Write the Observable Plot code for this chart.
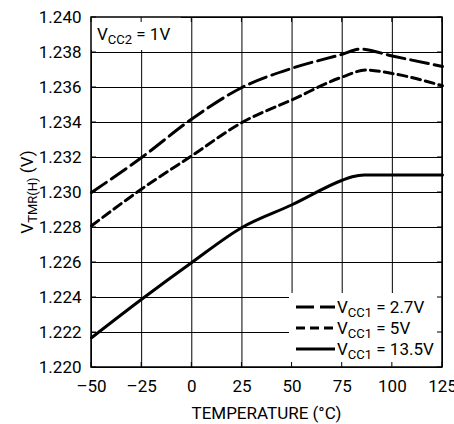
<!DOCTYPE html>
<html><head><meta charset="utf-8">
<script src="https://cdn.jsdelivr.net/npm/d3@7"></script>
<script src="https://cdn.jsdelivr.net/npm/@observablehq/plot@0.6"></script>
<style>body{margin:0;background:#fff;} svg{font-family:Roboto,sans-serif;}</style>
</head><body><div id="chart"></div>
<script>
// Tick values
const xTicks = [-50, -25, 0, 25, 50, 75, 100, 125];
const yTicks = [1.220, 1.222, 1.224, 1.226, 1.228, 1.230, 1.232, 1.234, 1.236, 1.238, 1.240];

// Series: VCC1 = 2.7V
const temp27 = [-50, -25, 0, 25, 50, 75, 84, 100, 125];
const v27    = [1.2300, 1.2320, 1.2342, 1.2360, 1.2371, 1.2379, 1.2382, 1.2378, 1.2372];
// Series: VCC1 = 5V
const temp5  = [-50, -25, 0, 25, 50, 75, 87, 100, 125];
const v5     = [1.2281, 1.2302, 1.2321, 1.2340, 1.2353, 1.2366, 1.2370, 1.2368, 1.2361];
// Series: VCC1 = 13.5V
const temp135 = [-50, -25, 0, 25, 50, 75, 80, 86, 100, 125];
const v135    = [1.2217, 1.2239, 1.2260, 1.2280, 1.2293, 1.2307, 1.2309, 1.2310, 1.2310, 1.2310];

const seriesNames = ["2.7V", "5V", "13.5V"];
const dashes = ["18,6", "9,5", null];

const toRows = (ts, vs) => ts.map((t, i) => ({t, v: vs[i]}));
const data = [toRows(temp27, v27), toRows(temp5, v5), toRows(temp135, v135)];

const fmtX = d => d < 0 ? "\u2013" + Math.abs(d) : String(d);

const plot = Plot.plot({
  width: 454, height: 424,
  marginLeft: 91, marginRight: 12, marginTop: 17, marginBottom: 57,
  style: {fontFamily: "Roboto, sans-serif", fontSize: "17px", color: "black", background: "white"},
  x: {domain: [-50, 125]},
  y: {domain: [1.220, 1.240]},
  marks: [
    Plot.gridX(xTicks, {stroke: "black", strokeOpacity: 1, strokeWidth: 1}),
    Plot.gridY(yTicks, {stroke: "black", strokeOpacity: 1, strokeWidth: 1}),
    Plot.axisX(xTicks, {tickSize: 0, tickPadding: 12, tickFormat: fmtX, label: null, fontSize: 17}),
    Plot.axisY(yTicks, {tickSize: 0, tickPadding: 10, tickFormat: d3.format(".3f"), label: null, fontSize: 17}),
    ...data.map((rows, i) => Plot.line(rows, {
      x: "t", y: "v", stroke: "black", strokeWidth: 3,
      strokeDasharray: dashes[i] || undefined, curve: "monotone-x"
    }))
  ]
});
document.getElementById("chart").appendChild(plot);

const x = plot.scale("x").apply, y = plot.scale("y").apply;
const svg = d3.select(plot);
const X0 = x(-50), X1 = x(125), Y0 = y(1.240), Y1 = y(1.220);

// white boxes for annotations
svg.append("rect").attr("x", 289).attr("y", 293).attr("width", X1 - 289).attr("height", Y1 - 293).attr("fill", "white");
svg.append("rect").attr("x", X0).attr("y", Y0).attr("width", 90).attr("height", 33).attr("fill", "white");

// inward ticks
const tk = svg.append("g").attr("stroke", "black").attr("stroke-width", 1);
xTicks.forEach(t => {
  tk.append("line").attr("x1", x(t)).attr("x2", x(t)).attr("y1", Y1).attr("y2", Y1 - 5);
  tk.append("line").attr("x1", x(t)).attr("x2", x(t)).attr("y1", Y0).attr("y2", Y0 + 5);
});
yTicks.forEach(v => {
  tk.append("line").attr("x1", X0).attr("x2", X0 + 5).attr("y1", y(v)).attr("y2", y(v));
  tk.append("line").attr("x1", X1).attr("x2", X1 - 5).attr("y1", y(v)).attr("y2", y(v));
});

// frame
svg.append("rect").attr("x", X0).attr("y", Y0).attr("width", X1 - X0).attr("height", Y1 - Y0)
  .attr("fill", "none").attr("stroke", "black").attr("stroke-width", 1.5);

function subText(g, xx, yy, main, sub, rest) {
  const t = g.append("text").attr("x", xx).attr("y", yy).attr("font-size", 17)
    .attr("fill", "black").attr("text-anchor", "start");
  t.append("tspan").text(main);
  t.append("tspan").attr("font-size", 13).attr("dy", 4).text(sub);
  t.append("tspan").attr("dy", -4).text(rest);
  return t;
}

// legend
const lg = svg.append("g");
const rowY = [307, 328, 349];
seriesNames.forEach((n, i) => {
  const l = lg.append("line").attr("x1", 296).attr("x2", 335).attr("y1", rowY[i]).attr("y2", rowY[i])
    .attr("stroke", "black").attr("stroke-width", 3);
  if (dashes[i]) l.attr("stroke-dasharray", dashes[i]);
  subText(lg, 337, rowY[i] + 6, "V", "CC1", " = " + n);
});

// VCC2 annotation
subText(svg, 97, 40, "V", "CC2", " = 1V");

// axis titles
svg.append("text").attr("x", (X0 + X1) / 2).attr("y", 419).attr("text-anchor", "middle")
  .attr("font-size", 17).attr("fill", "black").text("TEMPERATURE (\u00B0C)");
const yl = svg.append("text").attr("transform", `translate(33,${(Y0 + Y1) / 2}) rotate(-90)`)
  .attr("text-anchor", "middle").attr("font-size", 17).attr("fill", "black");
yl.append("tspan").text("V");
yl.append("tspan").attr("font-size", 13).attr("dy", 4).text("TMR(H)");
yl.append("tspan").attr("dy", -4).text(" (V)");
</script></body></html>
